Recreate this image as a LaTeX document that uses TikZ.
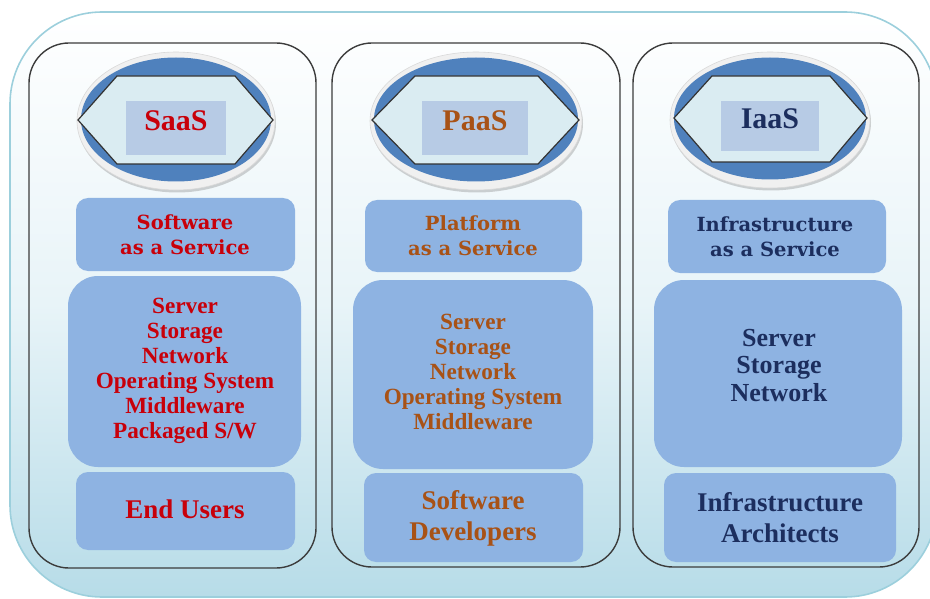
\documentclass[tikz,border=0pt]{standalone}
\usepackage{fontspec}
\setmainfont{Liberation Serif}
\newfontfamily\titlefont{DejaVu Serif}
\usetikzlibrary{shadows}
\definecolor{frameblue}{RGB}{156,207,220}
\definecolor{bottomblue}{RGB}{183,220,232}
\definecolor{midblue}{RGB}{222,239,245}
\definecolor{boxblue}{RGB}{142,179,226}
\definecolor{ellblue}{RGB}{79,129,189}
\definecolor{hexfill}{RGB}{218,236,242}
\definecolor{rectfill}{RGB}{183,203,229}
\definecolor{saasred}{RGB}{200,0,10}
\definecolor{paasbrown}{RGB}{168,82,22}
\definecolor{iaasnavy}{RGB}{28,46,94}
\definecolor{colline}{RGB}{60,60,60}
\tikzset{
  colframe/.style={draw=colline, line width=1.4pt, rounded corners=40pt, rectangle, inner sep=0pt},
  titlebox/.style={fill=boxblue, rounded corners=12pt, rectangle, inner sep=0pt},
  midbox/.style={fill=boxblue, rounded corners=30pt, rectangle, inner sep=0pt},
  ring/.style={ellipse, fill=gray!12, draw=gray!30, line width=0.6pt, inner sep=0pt, drop shadow={shadow xshift=1pt, shadow yshift=-2.5pt, opacity=0.35}},
  blueell/.style={ellipse, fill=ellblue, inner sep=0pt},
  hexline/.style={draw=black!80, line width=1.2pt, fill=hexfill, line join=miter},
  namebox/.style={fill=rectfill, rectangle, inner sep=0pt},
  nametxt/.style={font=\fontsize{30}{32}\selectfont\bfseries},
  svctxt/.style={font=\titlefont\fontsize{19.5}{25}\selectfont\bfseries, align=center},
  listtxt/.style={font=\fontsize{23.2}{25}\selectfont\bfseries, align=center},
  usertxt/.style={font=\fontsize{27}{31}\selectfont\bfseries, align=center}
}
\usetikzlibrary{shapes.geometric}
\begin{document}
\begin{tikzpicture}[x=1pt,y=-1pt]
\useasboundingbox (0,0) rectangle (930,599);
\clip (0,0) rectangle (930,599);
% outer frame
\shade[top color=white, bottom color=bottomblue, middle color=midblue!70!white, draw=frameblue, line width=1.6pt, rounded corners=92pt]
  (10,12) rectangle (937,597);

% column frames
\node[colframe, minimum width=287pt, minimum height=525pt] (sfr) at (172.5,305.5) {};
\node[colframe, minimum width=288pt, minimum height=524pt] (pfr) at (476,305) {};
\node[colframe, minimum width=286pt, minimum height=524pt] (ifr) at (776,305) {};

% ---------- SaaS ----------
\node[ring, minimum width=198pt, minimum height=138pt] (sring) at (176,121) {};
\node[blueell, minimum width=190pt, minimum height=124pt] (sell) at (176,119.5) {};
\draw[hexline] (78,120) -- (117,76) -- (235,76) -- (273,120) -- (235,164) -- (117,164) -- cycle;
\node[namebox, minimum width=100pt, minimum height=54pt] (sname) at (176,128) {};
\node[nametxt, text=saasred] (snamet) at (176,121) {SaaS};

\node[titlebox, minimum width=219pt, minimum height=73pt] (stitle) at (185.5,234.5) {};
\node[svctxt, text=saasred] (stitlet) at (185,235) {Software\\as a Service};
\node[midbox, minimum width=233pt, minimum height=191pt] (smid) at (184.5,371.5) {};
\node[listtxt, text=saasred] (smidt) at (185,371) {Server\\Storage\\Network\\Operating System\\Middleware\\Packaged S/W};
\node[titlebox, minimum width=219pt, minimum height=78pt] (sbot) at (185.5,511) {};
\node[usertxt, text=saasred] (sbott) at (185,509) {End Users};

% ---------- PaaS ----------
\node[ring, minimum width=212pt, minimum height=138pt] (pring) at (476,121) {};
\node[blueell, minimum width=204pt, minimum height=124pt] (pell) at (476,119.5) {};
\draw[hexline] (372,120) -- (415,76) -- (538,76) -- (579,120) -- (538,164) -- (415,164) -- cycle;
\node[namebox, minimum width=106pt, minimum height=54pt] (pname) at (475,128) {};
\node[nametxt, text=paasbrown] (pnamet) at (475,121) {PaaS};

\node[titlebox, minimum width=217pt, minimum height=72pt] (ptitle) at (473.5,236) {};
\node[svctxt, text=paasbrown] (ptitlet) at (473,236) {Platform\\as a Service};
\node[midbox, minimum width=240pt, minimum height=189pt] (pmid) at (473,374.5) {};
\node[listtxt, text=paasbrown] (pmidt) at (473,372) {Server\\Storage\\Network\\Operating System\\Middleware};
\node[titlebox, minimum width=219pt, minimum height=89pt] (pbot) at (473.5,517.5) {};
\node[usertxt, text=paasbrown] (pbott) at (473,518.5) {Software\\Developers};

% ---------- IaaS ----------
\node[ring, minimum width=200pt, minimum height=136pt] (iring) at (770,120) {};
\node[blueell, minimum width=192pt, minimum height=122pt] (iell) at (770,118.5) {};
\draw[hexline] (674,118) -- (712,76) -- (830,76) -- (867,118) -- (830,162) -- (712,162) -- cycle;
\node[namebox, minimum width=98pt, minimum height=50pt] (iname) at (770,126) {};
\node[nametxt, text=iaasnavy] (inamet) at (770,119) {IaaS};

\node[titlebox, minimum width=218pt, minimum height=73pt] (ititle) at (777,236.5) {};
\node[svctxt, text=iaasnavy] (ititlet) at (775,236.5) {Infrastructure\\as a Service};
\node[midbox, minimum width=248pt, minimum height=187pt] (imid) at (778,373.5) {};
\node[listtxt, font=\fontsize{26}{27.5}\selectfont\bfseries, text=iaasnavy] (imidt) at (779,365.5) {Server\\Storage\\Network};
\node[titlebox, minimum width=232pt, minimum height=89pt] (ibot) at (780,517.5) {};
\node[usertxt, text=iaasnavy] (ibott) at (780,518) {Infrastructure\\Architects};
\end{tikzpicture}
\end{document}
